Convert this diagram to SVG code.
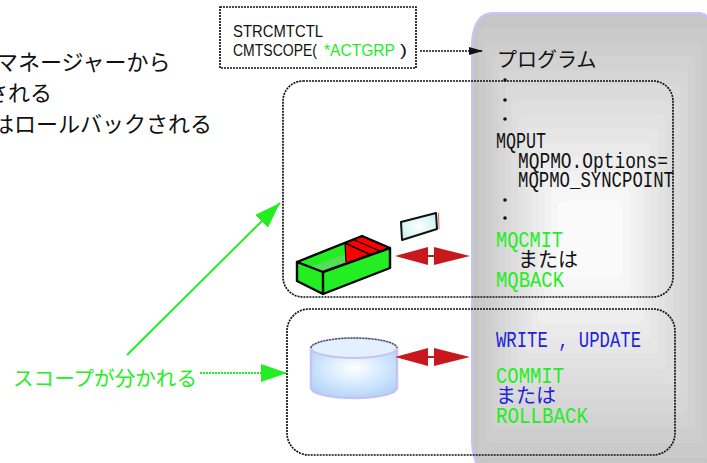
<svg xmlns="http://www.w3.org/2000/svg" width="707" height="463" viewBox="0 0 707 463">
  <defs>
    <style>
      .jp{font-family:"Noto Sans CJK JP","Noto Sans",sans-serif;font-size:20px}
      .note{font-size:22px}
      .mono{font-family:"Liberation Mono","DejaVu Sans Mono",monospace;font-size:22px}
      .sans{font-family:"Liberation Sans",Arial,sans-serif;font-size:17px}
      .blk{fill:#111}
      .grn{fill:#22ee22}
      .blu{fill:#2222dd}
      .scope{fill:none;stroke:#111;stroke-width:1.7;stroke-dasharray:2 1}
      .edge{fill:none;stroke:#000;stroke-width:2.4;stroke-linejoin:round;stroke-linecap:round}
      .red{fill:#c8181e}
      .dot{fill:#111}
    </style>
    <clipPath id="panelClip">
      <path d="M479,470 Q472,456 472,440 L472,42 Q474,14 492,13 L699,13 Q706,13 709,20 L714,470 Z"/>
    </clipPath>
    <marker id="headBlack" markerUnits="userSpaceOnUse" markerWidth="14" markerHeight="10" viewBox="0 0 14 10" refX="14" refY="5" orient="auto">
      <path d="M0,1 L14,5 L0,9 Z" fill="#111"/>
    </marker>
    <marker id="headGreen" markerUnits="userSpaceOnUse" markerWidth="26" markerHeight="18" viewBox="0 0 26 18" refX="26" refY="9" orient="auto">
      <path d="M0,0 L26,9 L0,18 Z" fill="#22ee22"/>
    </marker>
    <g id="twoWay">
      <polygon class="red" points="0,0 33,-9 33,9"/>
      <polygon class="red" points="39,-9 39,9 75,0"/>
      <line x1="33" y1="0" x2="39" y2="0" stroke="#c8181e" stroke-width="2"/>
    </g>
    <radialGradient id="dbGlow" cx="0.5" cy="0.4" r="0.65">
      <stop offset="0" stop-color="#ffffff"/>
      <stop offset="0.55" stop-color="#d2e8ff"/>
      <stop offset="1" stop-color="#b2d2f4"/>
    </radialGradient>
    <radialGradient id="cardGlow" cx="0.5" cy="0.5" r="0.6">
      <stop offset="0" stop-color="#ffffff"/>
      <stop offset="1" stop-color="#c8f0f0"/>
    </radialGradient>
  </defs>

  <!-- program panel: stepped grey shading -->
  <g id="program-panel">
    <g clip-path="url(#panelClip)">
      <rect x="472" y="13" width="245" height="460" fill="#c6c6c6"/>
      <rect x="478.6" y="27.4" width="231.1" height="430.7" rx="6" fill="#cacaca"/>
      <rect x="485.2" y="41.8" width="217.2" height="401.4" rx="6" fill="#cecece"/>
      <rect x="491.8" y="56.2" width="203.3" height="372.1" rx="6" fill="#d2d2d2"/>
      <rect x="498.4" y="70.6" width="189.4" height="342.8" rx="6" fill="#d6d6d6"/>
      <rect x="505" y="85" width="175.5" height="313.5" rx="6" fill="#dadada"/>
      <rect x="511.6" y="99.4" width="161.6" height="284.2" rx="6" fill="#dedede"/>
      <rect x="518.2" y="113.8" width="147.7" height="254.9" rx="6" fill="#e2e2e2"/>
      <rect x="524.8" y="128.2" width="133.8" height="225.6" rx="6" fill="#e6e6e6"/>
      <rect x="531.4" y="142.6" width="119.9" height="196.3" rx="6" fill="#eaeaea"/>
      <rect x="538" y="157" width="106" height="167" rx="6" fill="#eeeeee"/>
      <rect x="544.6" y="171.4" width="92.1" height="137.7" rx="6" fill="#f2f2f2"/>
      <rect x="551.2" y="185.8" width="78.2" height="108.4" rx="6" fill="#f6f6f6"/>
      <rect x="557.8" y="200.2" width="64.3" height="79.1" rx="6" fill="#fafafa"/>
    </g>
    <path d="M479,470 Q472,456 472,440 L472,42 Q474,14 492,13 L699,13 Q706,13 709,20" fill="none" stroke="#c4c4ff" stroke-width="2"/>
  </g>

  <!-- command box -->
  <g id="cmd-box">
    <rect class="scope" x="220" y="7" width="196" height="61"/>
    <text class="sans blk" x="233" y="37" textLength="90" lengthAdjust="spacingAndGlyphs">STRCMTCTL</text>
    <text class="sans blk" x="233" y="56"><tspan textLength="84" lengthAdjust="spacingAndGlyphs">CMTSCOPE(</tspan><tspan class="grn" x="324" textLength="71" lengthAdjust="spacingAndGlyphs">*ACTGRP</tspan><tspan x="400" textLength="7" lengthAdjust="spacingAndGlyphs">)</tspan></text>
  </g>

  <!-- explanatory note, top left -->
  <g id="note">
    <text class="jp note blk" x="-4" y="70">マネージャーから</text>
    <text class="jp note blk" x="-14" y="101">される</text>
    <text class="jp note blk" x="-8" y="132">はロールバックされる</text>
  </g>

  <!-- message queue commit scope -->
  <g id="scope-mq">
    <rect class="scope" x="283" y="81" width="390" height="216" rx="20"/>
  </g>

  <!-- database commit scope -->
  <g id="scope-db">
    <rect class="scope" x="287" y="309" width="388" height="146" rx="22"/>
  </g>

  <!-- program listing -->
  <g id="program-text">
    <text class="jp blk" x="497" y="67">プログラム</text>
    <circle class="dot" cx="505" cy="80" r="1.8"/>
    <circle class="dot" cx="505" cy="100" r="1.8"/>
    <circle class="dot" cx="505" cy="119" r="1.8"/>
    <text class="mono blk" x="496" y="148" textLength="50" lengthAdjust="spacingAndGlyphs">MQPUT</text>
    <text class="mono blk" x="518" y="168" textLength="150" lengthAdjust="spacingAndGlyphs">MQPMO.Options=</text>
    <text class="mono blk" x="518" y="187" textLength="156" lengthAdjust="spacingAndGlyphs">MQPMO_SYNCPOINT</text>
    <circle class="dot" cx="505" cy="200" r="1.8"/>
    <circle class="dot" cx="505" cy="218" r="1.8"/>
    <text class="mono grn" x="496" y="247" textLength="67" lengthAdjust="spacingAndGlyphs">MQCMIT</text>
    <text class="jp blk" x="518" y="267">または</text>
    <text class="mono grn" x="496" y="287" textLength="68" lengthAdjust="spacingAndGlyphs">MQBACK</text>

    <text class="mono blu" x="496" y="347" textLength="145" lengthAdjust="spacingAndGlyphs">WRITE , UPDATE</text>
    <text class="mono grn" x="496" y="383" textLength="68" lengthAdjust="spacingAndGlyphs">COMMIT</text>
    <text class="jp blu" x="496" y="403">または</text>
    <text class="mono grn" x="496" y="423" textLength="92" lengthAdjust="spacingAndGlyphs">ROLLBACK</text>
  </g>

  <!-- message tray -->
  <g id="queue-tray">
    <polygon points="297,262 362,236 390,248 323,272" fill="#22ee22"/>
    <polygon points="323,272 362,256 364.6,257.1" fill="#55dd55"/>
    <polygon points="310,267 345,254 352,261 323,272" fill="#55dd55"/>
    <polygon points="345,243 362,236 390,248 371,255" fill="#ff0000"/>
    <polygon points="345,243 371,255 346,263.6" fill="#ff0000"/>
    <line x1="345" y1="243" x2="371" y2="255" stroke="#000" stroke-width="1.6"/>
    <line x1="353" y1="239.5" x2="380" y2="251" stroke="#000" stroke-width="1.2"/>
    <line x1="345" y1="243" x2="346" y2="262" stroke="#000" stroke-width="1.2"/>
    <polygon points="297,262 323,272 323,294 297,281" fill="#22ee22"/>
    <polygon points="323,272 390,248 390,268 323,294" fill="#22ee22"/>
    <path class="edge" d="M297,262 L362,236 L390,248 L323,272 Z M297,262 L297,281 L323,294 L390,268 L390,248 M323,272 L323,294"/>
  </g>

  <!-- message -->
  <g id="message">
    <polygon points="401,222 436,213 437,229 402,240" fill="url(#cardGlow)" stroke="#111" stroke-width="2" stroke-linejoin="round"/>
    <line x1="438.5" y1="213" x2="439" y2="229" stroke="#e06060" stroke-width="1"/>
  </g>

  <!-- database -->
  <g id="database">
    <path d="M311,348 L311,388 A43,10 0 0 0 397,388 L397,348 Z" fill="url(#dbGlow)" stroke="#c4c4f4" stroke-width="2.5"/>
    <ellipse cx="354" cy="348" rx="43" ry="10" fill="#e2f0ff" stroke="#c4c4f4" stroke-width="2"/>
    <path d="M311,348 A43,10 0 0 1 397,348" fill="none" stroke="#444" stroke-width="1.3" stroke-dasharray="2 1"/>
  </g>

  <!-- scope label -->
  <g id="scope-label">
    <text class="jp grn" x="13" y="386" textLength="184" lengthAdjust="spacingAndGlyphs">スコープが分かれる</text>
  </g>

  <g id="connectors">
    <line x1="420" y1="51" x2="483" y2="51" stroke="#111" stroke-width="1.5" stroke-dasharray="2 1" marker-end="url(#headBlack)"/>
    <line x1="127" y1="355" x2="280" y2="203" stroke="#22ee22" stroke-width="2" marker-end="url(#headGreen)"/>
    <line x1="200" y1="373" x2="287" y2="373" stroke="#22ee22" stroke-width="2" stroke-dasharray="2 1" marker-end="url(#headGreen)"/>
    <use href="#twoWay" x="395" y="256"/>
    <use href="#twoWay" x="395" y="357"/>
  </g>
</svg>
